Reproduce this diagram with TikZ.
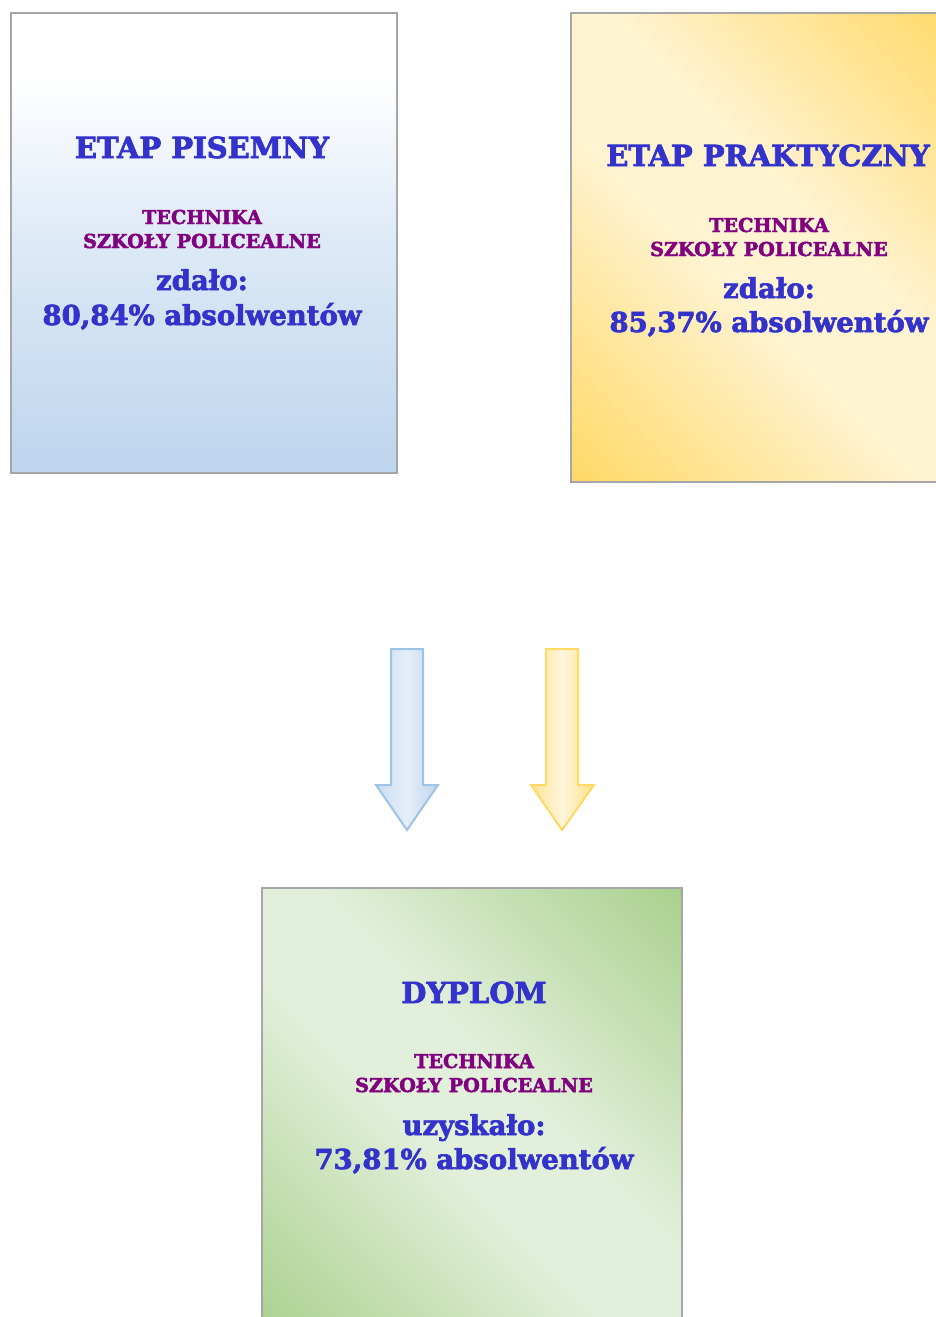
\documentclass[tikz,border=0pt]{standalone}
\usepackage{fontspec}
\setmainfont{DejaVu Serif}[BoldFeatures={FakeBold=2.5}]
\definecolor{boxgray}{HTML}{A6A6A6}
\definecolor{txtblue}{HTML}{3333CC}
\definecolor{txtpurple}{HTML}{800080}
\definecolor{blueA}{HTML}{FFFFFF}
\definecolor{blueB}{HTML}{BDD5EE}
\definecolor{goldA}{HTML}{FFD966}
\definecolor{goldB}{HTML}{FFF3D2}
\definecolor{greenA}{HTML}{A9D18E}
\definecolor{greenB}{HTML}{E2EFDA}
\definecolor{arrowblue}{HTML}{9DC3E6}
\definecolor{arrowgold}{HTML}{FFD966}
\pgfdeclareverticalshading{goldshade}{100bp}{color(0bp)=(goldA); color(14.6bp)=(goldA); color(44bp)=(goldB); color(56bp)=(goldB); color(85.4bp)=(goldA); color(100bp)=(goldA)}
\pgfdeclareverticalshading{greenshade}{100bp}{color(0bp)=(greenA); color(14.6bp)=(greenA); color(44bp)=(greenB); color(56bp)=(greenB); color(85.4bp)=(greenA); color(100bp)=(greenA)}
\pgfdeclareverticalshading{blueshade}{100bp}{color(0bp)=(blueB); color(25bp)=(blueB); color(50bp)=(blueB!52); color(68bp)=(blueA); color(100bp)=(blueA)}
\tikzset{
  box/.style={draw=boxgray, line width=2pt, inner sep=0pt, rectangle},
  ttl/.style={anchor=base, inner sep=0pt, text=txtblue, font=\fontsize{29}{35}\selectfont\bfseries},
  sub/.style={anchor=base, inner sep=0pt, text=txtpurple, font=\fontsize{19.2}{23}\selectfont\bfseries},
  val/.style={anchor=base, inner sep=0pt, text=txtblue, font=\fontsize{27.5}{33}\selectfont\bfseries},
  barrow/.style={draw=arrowblue, line width=2pt, line join=miter, left color=blueB!80, right color=blueB, middle color=blueB!40},
  garrow/.style={draw=arrowgold, line width=2pt, line join=miter, left color=goldA!70, right color=goldA!80, middle color=goldB!80}
}
\begin{document}
\begin{tikzpicture}[x=1pt, y=-1pt]
\useasboundingbox (0,0) rectangle (936,1317);
\clip (0,0) rectangle (936,1317);
% boxes
\node[box, shading=blueshade, minimum width=386pt, minimum height=460pt] (pis) at (204,243) {};
\node[box, shading=goldshade, shading angle=-45, minimum width=394pt, minimum height=469pt] (prak) at (768,247.5) {};
\node[box, shading=greenshade, shading angle=-45, minimum width=420pt, minimum height=452pt] (dyp) at (472,1114) {};
% texts left
\node[ttl] (pisT) at (202,158) {ETAP PISEMNY};
\node[sub] (pisS1) at (202,224) {TECHNIKA};
\node[sub] (pisS2) at (202,248) {SZKOŁY POLICEALNE};
\node[val] (pisV1) at (202,290) {zdało:};
\node[val] (pisV2) at (202,325) {80,84\% absolwentów};
% texts right
\node[ttl] (prakT) at (768,166) {ETAP PRAKTYCZNY};
\node[sub] (prakS1) at (769,232) {TECHNIKA};
\node[sub] (prakS2) at (769,256) {SZKOŁY POLICEALNE};
\node[val] (prakV1) at (769,298) {zdało:};
\node[val] (prakV2) at (769,332) {85,37\% absolwentów};
% texts bottom
\node[ttl] (dypT) at (474,1003) {DYPLOM};
\node[sub] (dypS1) at (474,1068) {TECHNIKA};
\node[sub] (dypS2) at (474,1092) {SZKOŁY POLICEALNE};
\node[val] (dypV1) at (474,1135) {uzyskało:};
\node[val] (dypV2) at (474,1169) {73,81\% absolwentów};
% arrows
\draw[barrow] (391,649) -- (423,649) -- (423,785) -- (438,785) -- (407,830) -- (376,785) -- (391,785) -- cycle;
\draw[garrow] (546,649) -- (578,649) -- (578,785) -- (594,785) -- (562,830) -- (531,785) -- (546,785) -- cycle;
\end{tikzpicture}
\end{document}
